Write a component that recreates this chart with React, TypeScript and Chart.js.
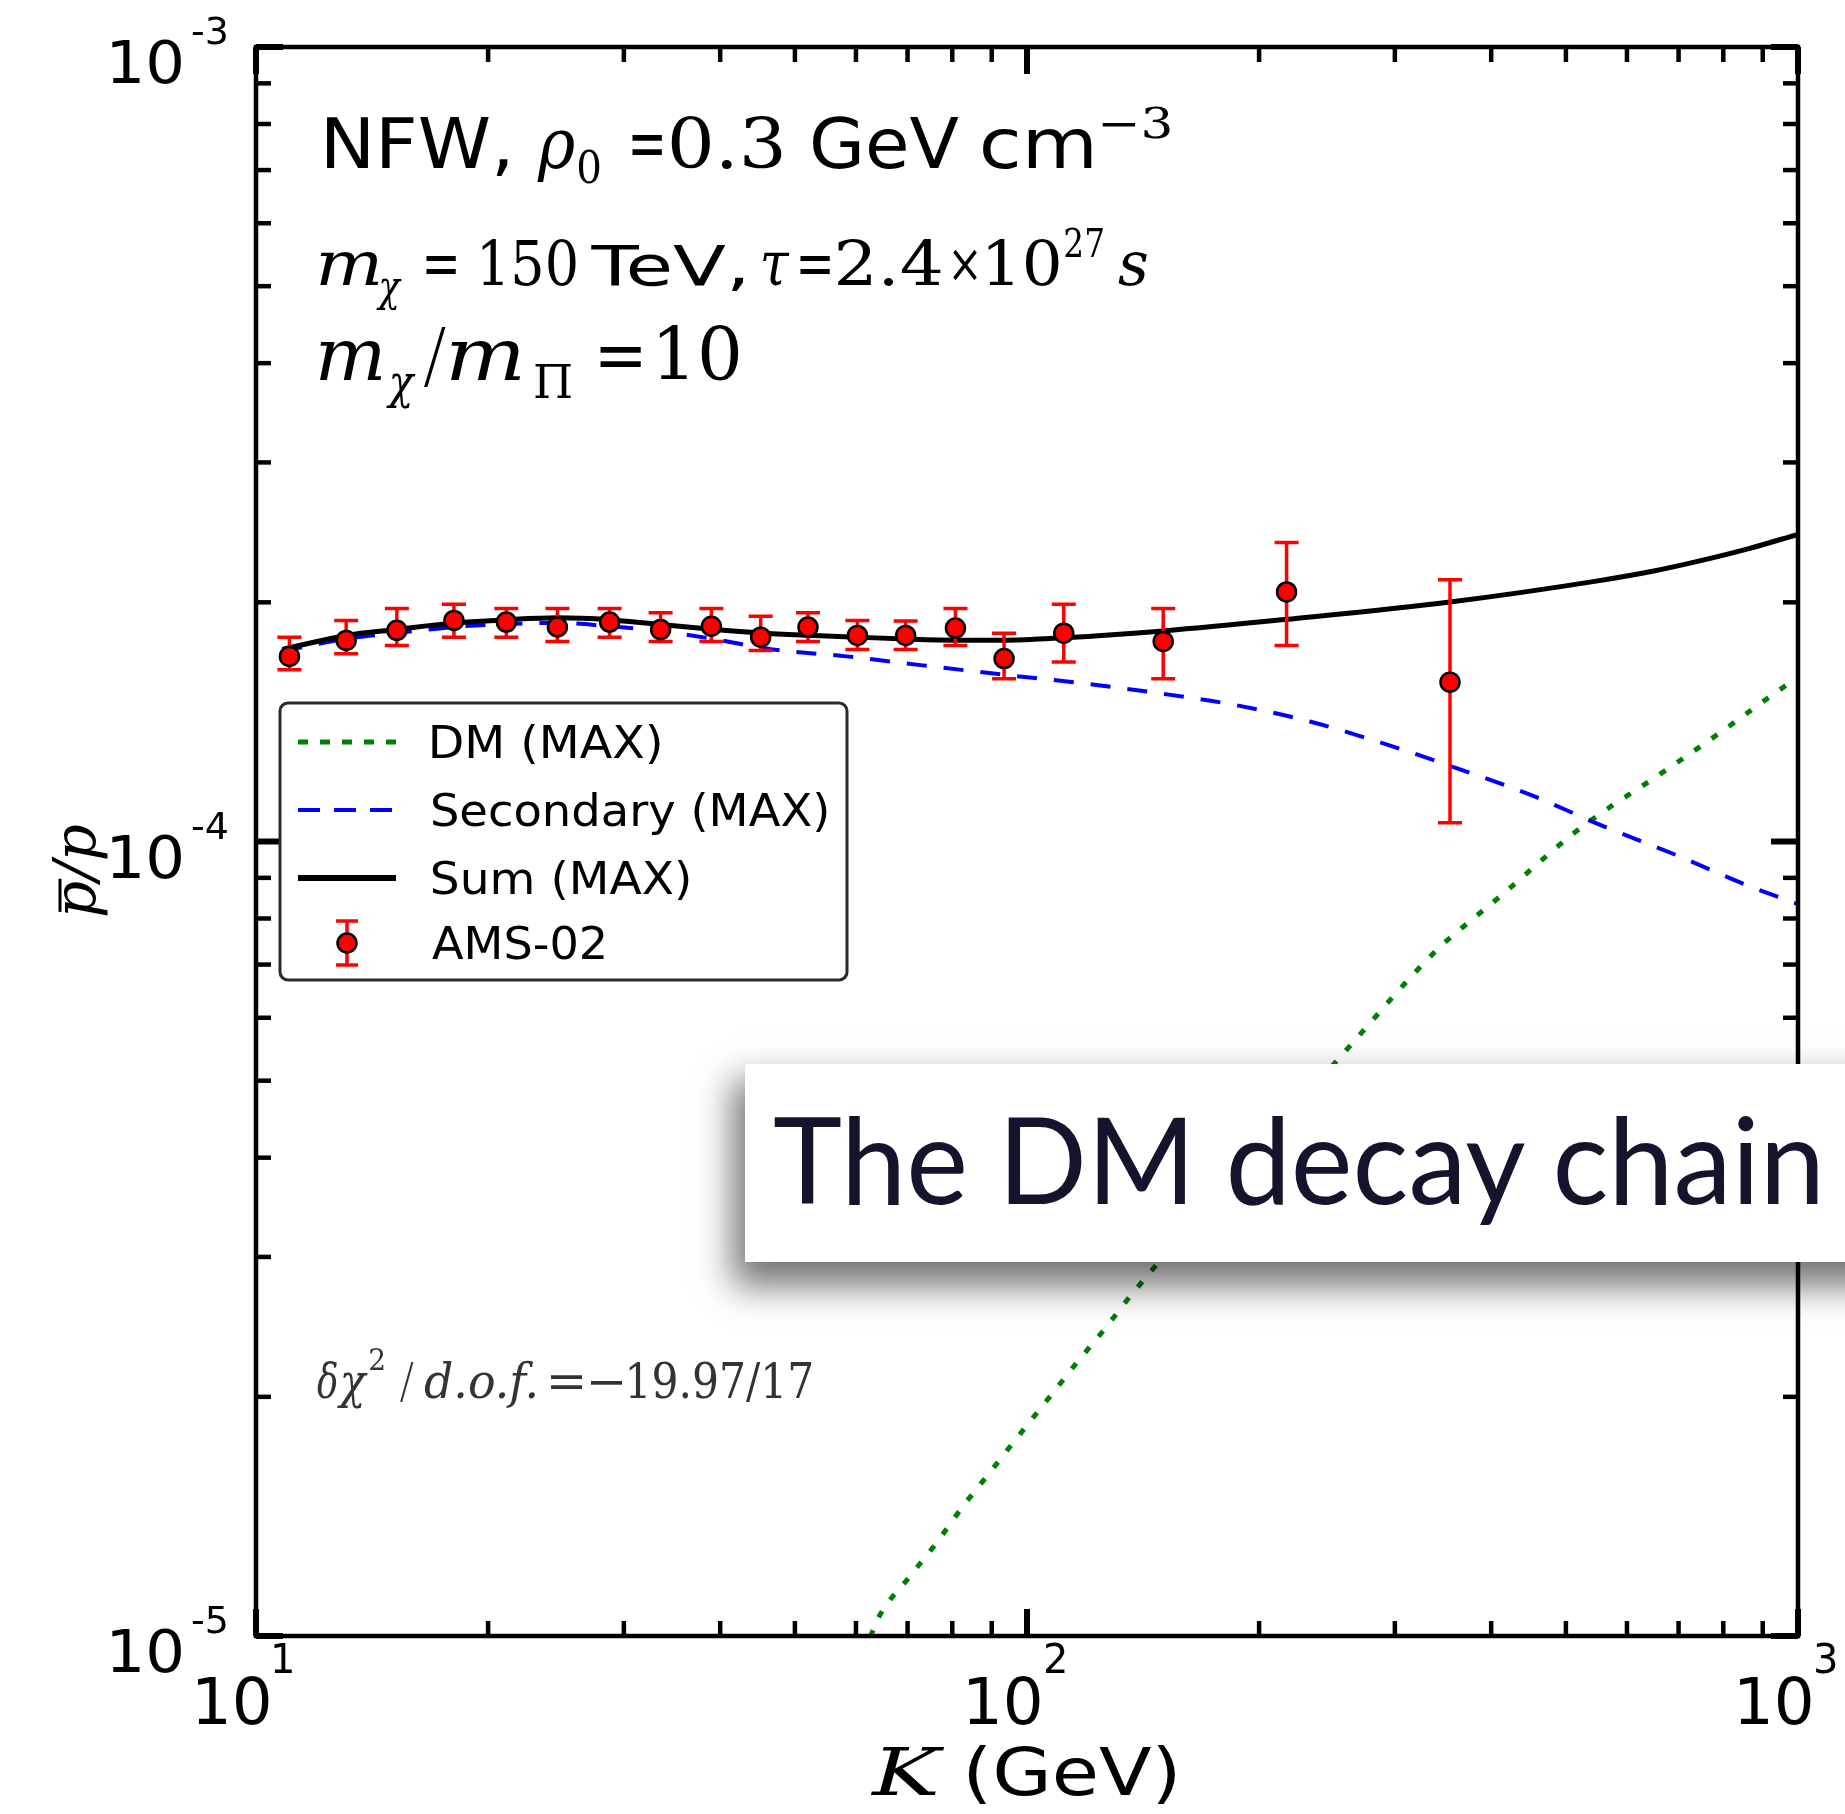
import React, { useEffect, useRef } from 'react';
import { Chart, registerables } from 'chart.js';

Chart.register(...registerables);

const W = 1845;
const H = 1814;

// AMS-02 antiproton-to-proton ratio, with the ends of each error bar
const amsEnergy = [11.05, 13.09, 15.23, 18.06, 21.12, 24.6, 28.75, 33.48, 38.96, 45.14, 51.99, 60.26, 69.6, 80.76, 93.38, 111.6, 150.2, 217.1, 353.7];
const amsRatio = [1.71e-4, 1.791e-4, 1.844e-4, 1.898e-4, 1.889e-4, 1.862e-4, 1.889e-4, 1.848e-4, 1.866e-4, 1.808e-4, 1.862e-4, 1.817e-4, 1.817e-4, 1.856e-4, 1.699e-4, 1.829e-4, 1.786e-4, 2.061e-4, 1.587e-4];
const amsUpper = [1.808e-4, 1.898e-4, 1.964e-4, 1.989e-4, 1.965e-4, 1.964e-4, 1.965e-4, 1.941e-4, 1.965e-4, 1.921e-4, 1.941e-4, 1.898e-4, 1.894e-4, 1.964e-4, 1.829e-4, 1.989e-4, 1.964e-4, 2.378e-4, 2.136e-4];
const amsLower = [1.645e-4, 1.723e-4, 1.765e-4, 1.808e-4, 1.808e-4, 1.786e-4, 1.808e-4, 1.786e-4, 1.786e-4, 1.74e-4, 1.786e-4, 1.744e-4, 1.744e-4, 1.765e-4, 1.603e-4, 1.682e-4, 1.603e-4, 1.765e-4, 1.056e-4];

// Sum of secondary and DM contributions
const sumEnergy = [10.82, 13.09, 15.22, 18.03, 21.13, 24.61, 28.75, 33.49, 38.97, 45.14, 51.95, 60.27, 69.59, 80.8, 93.3, 111.6, 150.1, 217.3, 353.6, 552.6, 650, 745.6, 861, 1000];
const sumRatio = [1.745e-4, 1.817e-4, 1.849e-4, 1.883e-4, 1.902e-4, 1.913e-4, 1.902e-4, 1.875e-4, 1.85e-4, 1.83e-4, 1.818e-4, 1.808e-4, 1.798e-4, 1.792e-4, 1.792e-4, 1.805e-4, 1.841e-4, 1.904e-4, 2.002e-4, 2.13e-4, 2.19e-4, 2.255e-4, 2.335e-4, 2.436e-4];

// Secondary (astrophysical) antiprotons
const secEnergy = [10.82, 13.09, 15.22, 18.03, 21.13, 24.61, 28.75, 33.49, 38.97, 46.79, 58.36, 73.22, 92.99, 117.1, 147.4, 184.9, 232.7, 291.1, 362.2, 451.7, 556.8, 692.3, 861.0, 1000];
const secRatio = [1.735e-4, 1.8e-4, 1.83e-4, 1.862e-4, 1.878e-4, 1.884e-4, 1.866e-4, 1.84e-4, 1.8e-4, 1.745e-4, 1.71e-4, 1.666e-4, 1.622e-4, 1.583e-4, 1.538e-4, 1.487e-4, 1.416e-4, 1.327e-4, 1.235e-4, 1.143e-4, 1.047e-4, 0.963e-4, 0.88e-4, 0.834e-4];

// Dark-matter decay contribution
const dmEnergy = [62.64, 64.42, 70.1, 76.28, 82.61, 89.93, 97.86, 106.5, 115.9, 126.2, 137.3, 257.1, 341.1, 377.3, 416.8, 460.3, 511.1, 570.4, 639.4, 713.6, 800.1, 892.9, 1000];
const dmRatio = [0.0998e-4, 0.1062e-4, 0.1181e-4, 0.1309e-4, 0.1457e-4, 0.1616e-4, 0.1794e-4, 0.1988e-4, 0.2205e-4, 0.2437e-4, 0.2705e-4, 0.5408e-4, 0.7325e-4, 0.7967e-4, 0.863e-4, 0.9391e-4, 1.023e-4, 1.105e-4, 1.188e-4, 1.277e-4, 1.38e-4, 1.491e-4, 1.611e-4];

// Axis ticks
const xMajorTicks = [10, 100, 1000];
const xTickExponents = ['1', '2', '3'];
const yMajorTicks = [1e-5, 1e-4, 1e-3];
const yTickExponents = ['-5', '-4', '-3'];
const minorMultipliers = [2, 3, 4, 5, 6, 7, 8, 9];

const legendLabels = ['DM (MAX)', 'Secondary (MAX)', 'Sum (MAX)', 'AMS-02'];

const SANS = '"DejaVu Sans"';
const SERIF = '"DejaVu Serif"';

type Run = { t: string; x: number; size: number; serif?: boolean; it?: boolean; dy?: number; w?: number };

// Draws a text run with its ink starting at x; optional w stretches the ink to that width.
function inkText(ctx: CanvasRenderingContext2D, r: Run, baseline: number) {
  ctx.font = `${r.it ? 'italic ' : ''}${r.size}px ${r.serif ? SERIF : SANS}`;
  const m = ctx.measureText(r.t);
  const ink = m.actualBoundingBoxLeft + m.actualBoundingBoxRight;
  const sx = r.w ? r.w / ink : 1;
  ctx.save();
  ctx.translate(r.x, baseline + (r.dy || 0));
  ctx.scale(sx, 1);
  ctx.fillText(r.t, m.actualBoundingBoxLeft, 0);
  ctx.restore();
}

function drawRuns(ctx: CanvasRenderingContext2D, runs: Run[], baseline: number, color: string) {
  ctx.save();
  ctx.fillStyle = color;
  ctx.textAlign = 'left';
  ctx.textBaseline = 'alphabetic';
  runs.forEach((r) => inkText(ctx, r, baseline));
  ctx.restore();
}

const CAP = 12;

const decorations = {
  id: 'decorations',
  beforeDatasetDraw(chart: any, args: any) {
    if (args.index !== 0) return;
    const ctx: CanvasRenderingContext2D = chart.ctx;
    const xs = chart.scales.x;
    const ys = chart.scales.y;
    ctx.save();
    ctx.strokeStyle = '#ff0000';
    ctx.lineWidth = 3.5;
    ctx.lineCap = 'butt';
    amsEnergy.forEach((k, i) => {
      const px = xs.getPixelForValue(k);
      const top = ys.getPixelForValue(amsUpper[i]);
      const bot = ys.getPixelForValue(amsLower[i]);
      ctx.beginPath();
      ctx.moveTo(px, top);
      ctx.lineTo(px, bot);
      ctx.moveTo(px - CAP, top);
      ctx.lineTo(px + CAP, top);
      ctx.moveTo(px - CAP, bot);
      ctx.lineTo(px + CAP, bot);
      ctx.stroke();
    });
    ctx.restore();
  },
  afterDraw(chart: any) {
    const ctx: CanvasRenderingContext2D = chart.ctx;
    const xs = chart.scales.x;
    const ys = chart.scales.y;
    const { left, right, top, bottom } = chart.chartArea;
    ctx.save();
    ctx.strokeStyle = '#000';
    ctx.lineCap = 'butt';

    const line = (x1: number, y1: number, x2: number, y2: number, lw: number) => {
      ctx.lineWidth = lw;
      ctx.beginPath();
      ctx.moveTo(x1, y1);
      ctx.lineTo(x2, y2);
      ctx.stroke();
    };
    const MAJ = 27, MIN = 15, MAJW = 6, MINW = 4.5;

    // x ticks (bottom and top, pointing inward)
    xMajorTicks.forEach((v, i) => {
      const px = xs.getPixelForValue(v);
      line(px, bottom, px, bottom - MAJ, MAJW);
      line(px, top, px, top + MAJ, MAJW);
      if (i < xMajorTicks.length - 1) {
        minorMultipliers.forEach((m) => {
          const p = xs.getPixelForValue(v * m);
          line(p, bottom, p, bottom - MIN, MINW);
          line(p, top, p, top + MIN, MINW);
        });
      }
    });
    // y ticks (left and right, pointing inward)
    yMajorTicks.forEach((v, i) => {
      const py = ys.getPixelForValue(v);
      line(left, py, left + MAJ, py, MAJW);
      line(right, py, right - MAJ, py, MAJW);
      if (i < yMajorTicks.length - 1) {
        minorMultipliers.forEach((m) => {
          const p = ys.getPixelForValue(v * m);
          line(left, p, left + MIN, p, MINW);
          line(right, p, right - MIN, p, MINW);
        });
      }
    });
    // frame
    ctx.lineWidth = 4.5;
    ctx.strokeRect(left, top, right - left, bottom - top);

    // tick labels
    yMajorTicks.forEach((v, i) => {
      const py = ys.getPixelForValue(v);
      drawRuns(ctx, [
        { t: '10', x: 112, size: 58, w: 70, dy: 36 },
        { t: yTickExponents[i], x: 192, size: 38, dy: -3 },
      ], py, '#000');
    });
    xMajorTicks.forEach((v, i) => {
      const px = xs.getPixelForValue(v);
      drawRuns(ctx, [
        { t: '10', x: px - 58, size: 64, w: 71 },
        { t: xTickExponents[i], x: px + 18, size: 40, dy: -51 },
      ], 1724, '#000');
    });

    // axis titles
    drawRuns(ctx, [
      { t: 'K', x: 871, size: 66, serif: true, it: true, w: 74 },
      { t: '(GeV)', x: 968, size: 66, w: 208 },
    ], 1795, '#000');

    ctx.save();
    ctx.translate(95, 871);
    ctx.rotate(-Math.PI / 2);
    ctx.font = `italic 58px ${SERIF}`;
    ctx.fillStyle = '#000';
    ctx.textBaseline = 'alphabetic';
    const full = ctx.measureText('p/p').width;
    const pw = ctx.measureText('p').width;
    ctx.fillText('p/p', -full / 2, 0);
    ctx.lineWidth = 3;
    ctx.beginPath();
    ctx.moveTo(-full / 2 + 6, -35);
    ctx.lineTo(-full / 2 + pw + 2, -35);
    ctx.stroke();
    ctx.restore();

    // legend
    const lx = 280, ly = 703, lw = 567, lh = 277;
    ctx.save();
    ctx.beginPath();
    ctx.roundRect(lx, ly, lw, lh, 8);
    ctx.fillStyle = '#fff';
    ctx.fill();
    ctx.lineWidth = 3;
    ctx.strokeStyle = '#2a2a2a';
    ctx.stroke();
    const rows = [742, 810, 878, 943];
    const hx1 = 298, hx2 = 396;
    ctx.strokeStyle = '#008000';
    ctx.setLineDash([10, 12]);
    line(hx1, rows[0], hx2, rows[0], 5);
    ctx.strokeStyle = '#0000ff';
    ctx.setLineDash([22, 14]);
    line(hx1, rows[1], hx2, rows[1], 4);
    ctx.setLineDash([]);
    ctx.strokeStyle = '#000';
    line(hx1, rows[2], hx2, rows[2], 6);
    ctx.strokeStyle = '#ff0000';
    ctx.lineWidth = 3.5;
    ctx.beginPath();
    ctx.moveTo(347, rows[3] - 22);
    ctx.lineTo(347, rows[3] + 22);
    ctx.moveTo(336, rows[3] - 22);
    ctx.lineTo(358, rows[3] - 22);
    ctx.moveTo(336, rows[3] + 22);
    ctx.lineTo(358, rows[3] + 22);
    ctx.stroke();
    ctx.beginPath();
    ctx.arc(347, rows[3], 9.5, 0, Math.PI * 2);
    ctx.fillStyle = '#ff0000';
    ctx.fill();
    ctx.lineWidth = 2.5;
    ctx.strokeStyle = '#000';
    ctx.stroke();
    const widths = [228, 395, 257, 172];
    legendLabels.forEach((lab, i) => {
      drawRuns(ctx, [{ t: lab, x: 432, size: 44, w: widths[i] }], rows[i] + 16, '#000');
    });
    ctx.restore();

    // model annotations
    drawRuns(ctx, [
      { t: 'NFW,', x: 326, size: 70, w: 182 },
      { t: 'ρ', x: 537, size: 70, serif: true, it: true, w: 38 },
      { t: '0', x: 578, size: 44, serif: true, dy: 15, w: 22 },
      { t: '=', x: 632, size: 72, serif: true, w: 30 },
      { t: '0.3', x: 671, size: 70, serif: true, w: 111 },
      { t: 'GeV', x: 812, size: 70, w: 147 },
      { t: 'cm', x: 982, size: 70, w: 110 },
      { t: '−3', x: 1102, size: 42, serif: true, dy: -30, w: 68 },
    ], 168, '#000');

    drawRuns(ctx, [
      { t: 'm', x: 320, size: 62, serif: true, it: true, w: 59 },
      { t: 'χ', x: 376, size: 42, serif: true, it: true, dy: 16, w: 26 },
      { t: '=', x: 426, size: 64, serif: true, w: 30 },
      { t: '150', x: 482, size: 62, serif: true, w: 94 },
      { t: 'TeV,', x: 590, size: 56, w: 154 },
      { t: 'τ', x: 763, size: 62, serif: true, it: true, w: 27 },
      { t: '=', x: 800, size: 64, serif: true, w: 30 },
      { t: '2.4', x: 838, size: 62, serif: true, w: 103 },
      { t: '×', x: 953, size: 54, serif: true, dy: -3, w: 24 },
      { t: '10', x: 988, size: 62, serif: true, w: 71 },
      { t: '27', x: 1065, size: 40, serif: true, dy: -28, w: 38 },
      { t: 's', x: 1118, size: 62, serif: true, it: true, w: 29 },
    ], 285, '#000');

    drawRuns(ctx, [
      { t: 'm', x: 320, size: 72, serif: true, it: true, w: 62 },
      { t: 'χ', x: 386, size: 46, serif: true, it: true, dy: 18, w: 30 },
      { t: '/', x: 424, size: 72, serif: true, it: true, w: 22 },
      { t: 'm', x: 451, size: 72, serif: true, it: true, w: 70 },
      { t: 'Π', x: 535, size: 46, serif: true, dy: 18, w: 36 },
      { t: '=', x: 600, size: 72, serif: true, w: 41 },
      { t: '10', x: 659, size: 72, serif: true, w: 80 },
    ], 380, '#000');

    drawRuns(ctx, [
      { t: 'δ', x: 317, size: 48, serif: true, it: true, w: 20 },
      { t: 'χ', x: 337, size: 48, serif: true, it: true, w: 31 },
      { t: '2', x: 370, size: 30, serif: true, dy: -28, w: 14 },
      { t: '/', x: 400, size: 48, serif: true, it: true, w: 14 },
      { t: 'd.o.f.', x: 424, size: 48, serif: true, it: true, w: 112 },
      { t: '=', x: 551, size: 48, serif: true, w: 32 },
      { t: '−', x: 591, size: 48, serif: true, w: 32 },
      { t: '19.97/17', x: 629, size: 48, serif: true, w: 183 },
    ], 1398, '#333');

    ctx.restore();
  },
};

export default function App() {
  const canvasRef = useRef<HTMLCanvasElement | null>(null);

  useEffect(() => {
    const canvas = canvasRef.current;
    if (!canvas) return;
    const pts = (xs: number[], ys: number[]) => xs.map((x, i) => ({ x, y: ys[i] }));
    const chart = new Chart(canvas, {
      type: 'line',
      data: {
        datasets: [
          {
            label: 'AMS-02',
            data: pts(amsEnergy, amsRatio),
            showLine: false,
            pointRadius: 9.5,
            pointBackgroundColor: '#ff0000',
            pointBorderColor: '#000',
            pointBorderWidth: 2.5,
          },
          {
            label: 'Sum (MAX)',
            data: pts(sumEnergy, sumRatio),
            borderColor: '#000',
            borderWidth: 5,
            pointRadius: 0,
            cubicInterpolationMode: 'monotone',
            fill: false,
          },
          {
            label: 'Secondary (MAX)',
            data: pts(secEnergy, secRatio),
            borderColor: '#0000ff',
            borderWidth: 4,
            borderDash: [20, 17],
            pointRadius: 0,
            cubicInterpolationMode: 'monotone',
            fill: false,
          },
          {
            label: 'DM (MAX)',
            data: pts(dmEnergy, dmRatio),
            borderColor: '#008000',
            borderWidth: 5,
            borderDash: [7, 14],
            pointRadius: 0,
            cubicInterpolationMode: 'monotone',
            fill: false,
          },
        ],
      } as any,
      options: {
        animation: false,
        responsive: false,
        devicePixelRatio: 1,
        layout: { padding: { left: 256, top: 47, right: 47, bottom: 178 } },
        scales: {
          x: { type: 'logarithmic', min: 10, max: 1000, display: false },
          y: { type: 'logarithmic', min: 1e-5, max: 1e-3, display: false },
        },
        plugins: { legend: { display: false }, tooltip: { enabled: false } },
      } as any,
      plugins: [decorations],
    });
    return () => chart.destroy();
  }, []);

  return (
    <div style={{ position: 'absolute', left: 0, top: 0, width: W, height: H, overflow: 'hidden', background: '#fff' }}>
      <canvas ref={canvasRef} width={W} height={H} style={{ position: 'absolute', left: 0, top: 0, width: W, height: H }} />
      <div
        style={{
          position: 'absolute',
          left: 745,
          top: 1064,
          width: 1200,
          height: 198,
          background: '#fff',
          boxShadow: '-8px 20px 34px 4px rgba(0,0,0,0.55)',
        }}
      >
        <svg width={1200} height={198} style={{ display: 'block' }}>
          <text
            x={28}
            y={140}
            fontFamily="Lato"
            fontSize={121}
            textLength={1052}
            lengthAdjust="spacingAndGlyphs"
            fill="#14142c"
          >
            The DM decay chain
          </text>
        </svg>
      </div>
    </div>
  );
}
